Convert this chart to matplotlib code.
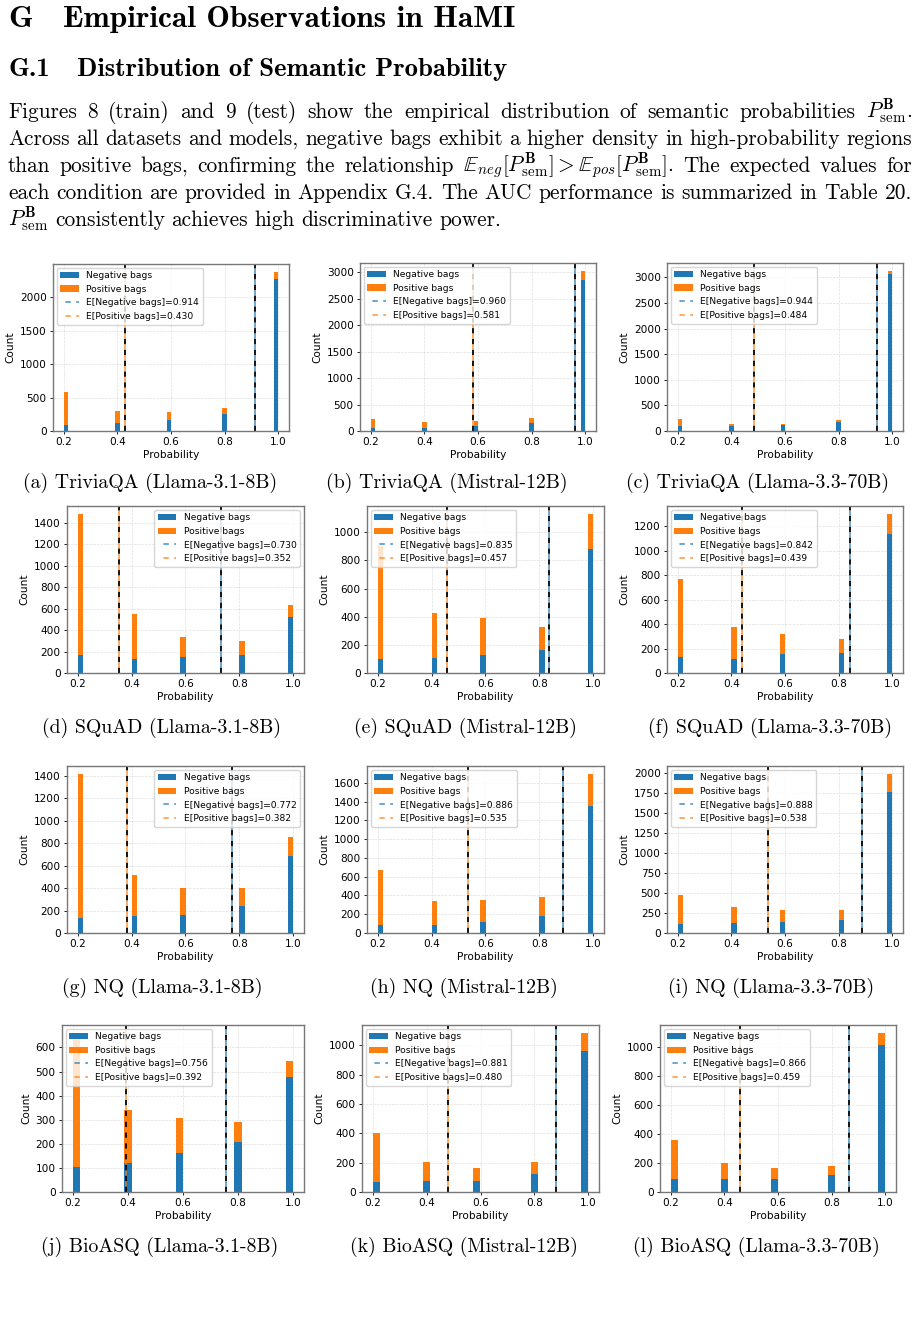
import matplotlib
matplotlib.use("Agg")
import matplotlib.pyplot as plt
from matplotlib.ticker import MaxNLocator
import numpy as np

plt.rcParams['mathtext.fontset'] = 'cm'

# probability bins the semantic probabilities fall on
prob_values = [0.2, 0.4, 0.6, 0.8, 1.0]

captions = [
    "(a) TriviaQA (Llama-3.1-8B)", "(b) TriviaQA (Mistral-12B)", "(c) TriviaQA (Llama-3.3-70B)",
    "(d) SQuAD (Llama-3.1-8B)", "(e) SQuAD (Mistral-12B)", "(f) SQuAD (Llama-3.3-70B)",
    "(g) NQ (Llama-3.1-8B)", "(h) NQ (Mistral-12B)", "(i) NQ (Llama-3.3-70B)",
    "(j) BioASQ (Llama-3.1-8B)", "(k) BioASQ (Mistral-12B)", "(l) BioASQ (Llama-3.3-70B)",
]

# counts (negative at bottom, positive on top)
neg_counts = [
    [85, 125, 160, 260, 2270], [50, 63, 89, 158, 2850], [92, 92, 110, 175, 3060],
    [169, 131, 150, 172, 519], [100, 110, 128, 164, 880], [134, 118, 153, 164, 1137],
    [137, 155, 164, 239, 687], [89, 89, 121, 186, 1357], [114, 131, 144, 157, 1765],
    [103, 120, 160, 207, 477], [70, 75, 75, 120, 960], [90, 90, 90, 120, 1010],
]
pos_counts = [
    [490, 170, 125, 80, 105], [184, 107, 94, 95, 170], [151, 53, 30, 45, 65],
    [1311, 414, 184, 128, 112], [805, 318, 260, 164, 250], [633, 257, 170, 115, 164],
    [1281, 358, 233, 164, 170], [582, 254, 233, 193, 339], [356, 195, 144, 127, 227],
    [557, 219, 148, 84, 68], [330, 130, 90, 85, 125], [265, 110, 75, 60, 85],
]
neg_means = [0.914, 0.960, 0.944, 0.730, 0.835, 0.842, 0.772, 0.886, 0.888, 0.756, 0.881, 0.866]
pos_means = [0.430, 0.581, 0.484, 0.352, 0.457, 0.439, 0.382, 0.535, 0.538, 0.392, 0.480, 0.459]
n_bins = [50, 50, 50, 40, 40, 40, 40, 40, 40, 30, 30, 30]
legend_locs = ['upper left'] * 3 + ['upper right', 'upper left', 'upper left',
                                    'upper right', 'upper left', 'upper left'] + ['upper left'] * 3

W, H = 919, 1318
fig = plt.figure(figsize=(W / 100, H / 100), dpi=100)

# axes frames in page pixels: left, top, right, bottom
frames = [
    (53, 264, 289, 431), (360, 263, 596, 431), (667, 263, 903, 431),
    (67, 506, 304, 673), (367, 506, 604, 673), (667, 506, 903, 673),
    (67, 766, 304, 933), (367, 766, 604, 933), (667, 766, 903, 933),
    (62, 1025, 304, 1192), (362, 1025, 599, 1192), (660, 1025, 896, 1192),
]
caption_pos = [
    (150, 488), (447, 488), (757, 488),
    (161, 733), (465, 733), (770, 733),
    (162, 993), (464, 993), (771, 993),
    (160, 1252), (464, 1252), (756, 1252),
]

blue, orange = '#1f77b4', '#ff7f0e'
for i in range(12):
    l, t, r, b = frames[i]
    ax = fig.add_axes([l / W, 1 - b / H, (r - l) / W, (b - t) / H])
    edges = np.linspace(0.2, 1.0, n_bins[i] + 1)
    _, _, patches = ax.hist([prob_values, prob_values], bins=edges,
                            weights=[neg_counts[i], pos_counts[i]], stacked=True,
                            color=[blue, orange])
    ax.axvline(neg_means[i], color='k', linestyle=(0, (3, 3)), linewidth=1.3)
    ax.axvline(pos_means[i], color='k', linestyle=(0, (3, 3)), linewidth=1.3)
    ln1 = ax.axvline(neg_means[i], color=blue, linestyle=(3, (3, 3)), linewidth=1.3, alpha=0.7)
    ln2 = ax.axvline(pos_means[i], color=orange, linestyle=(3, (3, 3)), linewidth=1.3, alpha=0.7)
    ax.legend([patches[0][0], patches[1][0], ln1, ln2],
              ['Negative bags', 'Positive bags',
               f'E[Negative bags]={neg_means[i]:.3f}', f'E[Positive bags]={pos_means[i]:.3f}'],
              loc=legend_locs[i], fontsize=6.6, borderaxespad=0.4)
    ax.grid(True, linestyle='--', linewidth=0.5, alpha=0.4)
    ax.set_axisbelow(True)
    ax.set_xticks([0.2, 0.4, 0.6, 0.8, 1.0])
    ax.yaxis.set_major_locator(MaxNLocator(nbins=9, steps=[1, 2, 2.5, 5, 10]))
    ax.tick_params(labelsize=7.6, length=2.5, width=0.6, pad=2)
    ax.set_xlabel('Probability', fontsize=7.6, labelpad=2)
    ax.set_ylabel('Count', fontsize=7.6, labelpad=3)
    for s in ax.spines.values():
        s.set_color('#777777')
        s.set_linewidth(1.0)
    cx, cy = caption_pos[i]
    fig.text(cx / W, 1 - cy / H, captions[i], family='cmr10', fontsize=14.3,
             ha='center', va='baseline')

# headings
fig.text(8 / W, 1 - 27 / H, 'G', family='cmb10', fontsize=22.6, va='baseline')
fig.text(63 / W, 1 - 27 / H, 'Empirical Observations in HaMI', family='cmb10', fontsize=22.6, va='baseline')
fig.text(8 / W, 1 - 76 / H, 'G.1', family='cmb10', fontsize=19.2, va='baseline')
fig.text(77 / W, 1 - 76 / H, 'Distribution of Semantic Probability', family='cmb10', fontsize=19.2, va='baseline')

P = r'$P^{\mathbf{B}}_{\mathrm{sem}}$'
para_lines = [
    "Figures 8 (train) and 9 (test) show the empirical distribution of semantic probabilities " + P + ".",
    "Across all datasets and models, negative bags exhibit a higher density in high-probability regions",
    "than positive bags, confirming the relationship "
    r"$\mathbb{E}_{neg}[P^{\mathbf{B}}_{\mathrm{sem}}]>\mathbb{E}_{pos}[P^{\mathbf{B}}_{\mathrm{sem}}]$."
    " The expected values for",
    "each condition are provided in Appendix G.4. The AUC performance is summarized in Table 20.",
    P + " consistently achieves high discriminative power.",
]
para_base = [118, 145, 172, 199, 226]
x_left, x_right = 8, 912

renderer = fig.canvas.get_renderer()
for k, line in enumerate(para_lines):
    words = line.split(' ')
    texts = [fig.text(0, 1 - para_base[k] / H, w, family='cmr10', fontsize=15.4, va='baseline')
             for w in words]
    widths = [t.get_window_extent(renderer).width for t in texts]
    if k < len(para_lines) - 1:
        gap = (x_right - x_left - sum(widths)) / (len(words) - 1)
    else:
        gap = 6.5
    x = x_left
    for t, w in zip(texts, widths):
        t.set_x(x / W)
        x += w + gap

fig.savefig('out.png', dpi=100)
